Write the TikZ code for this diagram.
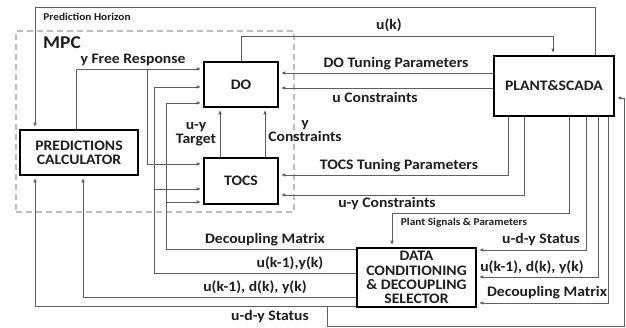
\documentclass[tikz,border=0pt]{standalone}
\usepackage{fontspec}
\setmainfont{Carlito}[FakeStretch=1.08]
\usetikzlibrary{arrows.meta}
\definecolor{linegray}{RGB}{95,95,95}
\definecolor{textc}{RGB}{30,30,30}
\definecolor{dashgray}{RGB}{190,190,190}
\begin{document}
\begin{tikzpicture}[x=1pt,y=-1pt,
  box/.style={draw=black,fill=white,line width=1.8pt,inner sep=0pt,align=center,text=textc,
    font=\bfseries\fontsize{14.5}{14.3}\selectfont},
  conn/.style={draw=linegray,line width=0.9pt,-{Latex[length=4.5pt,width=3.6pt]},shorten >=2pt},
  plain/.style={draw=linegray,line width=0.9pt},
  lbl/.style={inner sep=0pt,text=textc,font=\bfseries\fontsize{14.5}{14}\selectfont,align=center},
  small/.style={inner sep=0pt,text=textc,font=\bfseries\fontsize{10.5}{12}\selectfont},
  mpcbox/.style={draw=dashgray,line width=1.6pt,dash pattern=on 6pt off 4pt,inner sep=0pt}]
\useasboundingbox (0,0) rectangle (626,328);
\fill[white] (0,0) rectangle (626,328);

% MPC dashed frame
\node[mpcbox,minimum width=278pt,minimum height=181pt] (mpc) at (155,121.5) {};
\node[inner sep=0pt,text=textc,font=\bfseries\fontsize{18}{18}\selectfont] (mpcl) at (62,43) {MPC};

% boxes
\node[box,minimum width=74pt,minimum height=45pt] (do) at (241,84.5) {DO};
\node[box,minimum width=74pt,minimum height=46pt] (tocs) at (241,181) {TOCS};
\node[box,minimum width=118pt,minimum height=45pt] (pc) at (79,152.5) {PREDICTIONS\\CALCULATOR};
\node[box,minimum width=120pt,minimum height=60pt] (plant) at (554,86) {PLANT\&SCADA};
\node[box,minimum width=119pt,minimum height=59pt] (data) at (416.5,277.5) {DATA\\CONDITIONING\\\& DECOUPLING\\SELECTOR};

% Prediction horizon
\coordinate (ph1) at (595,7); \coordinate (ph2) at (35,7);
\draw[conn] (plant.north -| ph1) -- (ph1) -- (ph2) -- (pc.north -| ph2);
% u(k)
\coordinate (uk) at (553,36);
\draw[conn] (do.north) |- (uk) -- (plant.north -| uk);
% y free response
\coordinate (fr) at (76,69);
\draw[conn] (pc.north -| fr) -- (fr) -- (do.west |- fr);
\coordinate (frb) at (147,164);
\draw[conn] (frb |- fr) -- (frb) -- (tocs.west |- frb);
% decoupling matrix to DO / TOCS
\coordinate (dm) at (166,249); \coordinate (dmD) at (166,103); \coordinate (dmT) at (166,202);
\draw[conn] (data.west |- dm) -- (dm) -- (dmD) -- (do.west |- dmD);
\draw[conn] (dmT) -- (tocs.west |- dmT);
% u(k-1),y(k) to DO / TOCS
\coordinate (uy) at (154,273); \coordinate (uyD) at (154,87); \coordinate (uyT) at (154,189);
\draw[conn] (data.west |- uy) -- (uy) -- (uyD) -- (do.west |- uyD);
\draw[conn] (uyT) -- (tocs.west |- uyT);
% u(k-1), d(k), y(k) to PC
\coordinate (udy) at (83,297);
\draw[conn] (data.west |- udy) -- (udy) -- (pc.south -| udy);
% u-d-y status to PC and to plant
\coordinate (st) at (35,306);
\draw[conn] (data.west |- st) -- (st) -- (pc.south -| st);
\coordinate (stb1) at (327,306); \coordinate (stb2) at (327,326);
\coordinate (stb3) at (624,326); \coordinate (stb4) at (624,98);
\draw[conn] (stb1) -- (stb2) -- (stb3) -- (stb4) -- (plant.east |- stb4);
% plant -> DO
\coordinate (dot) at (0,73); \coordinate (uc) at (0,88);
\draw[conn] (plant.west |- dot) -- (do.east |- dot);
\draw[conn] (plant.west |- uc) -- (do.east |- uc);
% plant -> TOCS
\coordinate (tt) at (508,175); \coordinate (uyc) at (524,195);
\draw[conn] (plant.south -| tt) -- (tt) -- (tocs.east |- tt);
\draw[conn] (plant.south -| uyc) -- (uyc) -- (tocs.east |- uyc);
% plant -> data
\coordinate (ps1) at (569,213); \coordinate (ps2) at (392,213);
\draw[conn] (plant.south -| ps1) -- (ps1) -- (ps2) -- (data.north -| ps2);
\coordinate (r1) at (586,250); \coordinate (r2) at (598,277); \coordinate (r3) at (608,303);
\draw[conn] (plant.south -| r1) -- (r1) -- (data.east |- r1);
\draw[conn] (plant.south -| r2) -- (r2) -- (data.east |- r2);
\draw[conn] (plant.south -| r3) -- (r3) -- (data.east |- r3);
% TOCS -> DO
\coordinate (tg) at (220,0); \coordinate (yc) at (265,0);
\draw[conn] (tocs.north -| tg) -- (do.south -| tg);
\draw[conn] (tocs.north -| yc) -- (do.south -| yc);

% labels
\node[small] (lph) at (87,17) {Prediction Horizon};
\node[lbl] (luk) at (389,25) {u(k)};
\node[lbl] (lfr) at (133,60) {y Free Response};
\node[lbl] (ldot) at (396,64) {DO Tuning Parameters};
\node[lbl] (luc) at (375,97) {u Constraints};
\node[lbl] (ltg) at (196,134) {u-y\\Target};
\node[lbl] (lyc) at (305,131.5) {y\\Constraints};
\node[lbl] (ltt) at (399,166) {TOCS Tuning Parameters};
\node[lbl] (luyc) at (387,204) {u-y Constraints};
\node[small] (lps) at (464,223) {Plant Signals \& Parameters};
\node[lbl] (ldm) at (265,240) {Decoupling Matrix};
\node[lbl] (luy) at (290,263) {u(k-1),y(k)};
\node[lbl] (ludy) at (255,287) {u(k-1), d(k), y(k)};
\node[lbl] (lst) at (270,317) {u-d-y Status};
\node[lbl] (lr1) at (541,240) {u-d-y Status};
\node[lbl] (lr2) at (532,267) {u(k-1), d(k), y(k)};
\node[lbl] (lr3) at (547,293) {Decoupling Matrix};
\end{tikzpicture}
\end{document}
